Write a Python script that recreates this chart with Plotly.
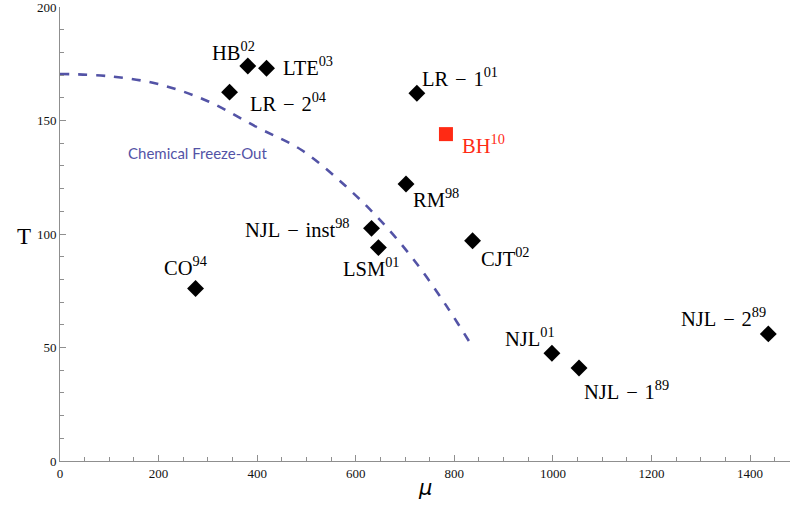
import plotly.graph_objects as go

# ---- data ----
SP = "\u2004"
model_names = ["HB<sup>02</sup>", "LTE<sup>03</sup>", f"LR{SP}−{SP}2<sup>04</sup>", f"NJL{SP}−{SP}inst<sup>98</sup>",
               "LSM<sup>01</sup>", f"LR{SP}−{SP}1<sup>01</sup>", "RM<sup>98</sup>", "CJT<sup>02</sup>",
               "CO<sup>94</sup>", "NJL<sup>01</sup>", f"NJL{SP}−{SP}1<sup>89</sup>", f"NJL{SP}−{SP}2<sup>89</sup>"]
model_mu = [381, 419, 344, 632, 646, 724, 702, 837, 275, 998, 1053, 1437]
model_T = [174, 173, 162.5, 102.5, 94, 162, 122, 97, 76, 47.5, 41, 56]

bh_name = "BH<sup>10</sup>"
bh_mu = [783]
bh_T = [144]

freeze_mu = [0, 100, 200, 300, 400, 490, 580, 650, 720, 785, 832]
freeze_T = [170.5, 169.5, 166, 158.5, 147, 137, 121, 106, 88, 68, 52]
freeze_label = "Chemical Freeze-Out"
freeze_label_pos = (279, 135.6)

x_ticks = [0, 200, 400, 600, 800, 1000, 1200, 1400]
y_ticks = [0, 50, 100, 150, 200]

# ---- label offsets in pixels (dx, dy up) ----
offsets = [(-14, 15), (41, 2), (58, -10), (-74, 0), (-7, -19), (43, 16),
           (30, -14), (33, -16), (-10, 22), (-22, 16), (47, -22), (-45, 17)]
bh_offset = (38, -10)

BLUE = "#5353a6"
RED = "#ff2a14"
AXC = "#8f8f8f"
SERIF = "Liberation Serif"

fig = go.Figure()
fig.add_trace(go.Scatter(x=freeze_mu, y=freeze_T, mode="lines",
                         line=dict(color=BLUE, width=2.6, dash="dash", shape="spline"),
                         hoverinfo="skip", showlegend=False))
fig.add_trace(go.Scatter(x=model_mu, y=model_T, mode="markers",
                         marker=dict(symbol="diamond", size=13, color="black"),
                         showlegend=False))
fig.add_trace(go.Scatter(x=bh_mu, y=bh_T, mode="markers",
                         marker=dict(symbol="square", size=14, color=RED),
                         showlegend=False))

for name, mx, ty, (dx, dy) in zip(model_names, model_mu, model_T, offsets):
    fig.add_annotation(x=mx, y=ty, text=name, showarrow=False, xshift=dx, yshift=dy,
                       font=dict(family=SERIF, size=20.5, color="black"))
fig.add_annotation(x=bh_mu[0], y=bh_T[0], text=bh_name, showarrow=False,
                   xshift=bh_offset[0], yshift=bh_offset[1],
                   font=dict(family=SERIF, size=20.5, color=RED))
fig.add_annotation(x=freeze_label_pos[0], y=freeze_label_pos[1], text=freeze_label, showarrow=False,
                   font=dict(family="Lato", size=15, color=BLUE))

fig.add_annotation(xref="paper", yref="paper", x=0, y=0.5, xshift=-45, yshift=-2, text="T", showarrow=False,
                   font=dict(family=SERIF, size=23, color="black"))
fig.add_annotation(xref="paper", yref="paper", x=0.5, y=0, yshift=-41, text="<i>μ</i>", showarrow=False,
                   font=dict(family="DejaVu Sans", size=21, color="black"))

axis_common = dict(showgrid=False, zeroline=False, showline=True, linecolor=AXC,
                   linewidth=1, ticks="inside", ticklen=6, tickcolor=AXC, automargin=False,
                   ticklabeloverflow="allow",
                   tickfont=dict(family=SERIF, size=13, color="#111"))
fig.update_xaxes(range=[0, 1481], tickvals=x_ticks, **axis_common,
                 minor=dict(dtick=50, ticks="inside", ticklen=4, tickcolor=AXC))
fig.update_yaxes(range=[0, 200], tickvals=y_ticks, **axis_common,
                 minor=dict(dtick=10, ticks="inside", ticklen=4, tickcolor=AXC))

fig.update_layout(width=790, height=519, margin=dict(l=60, r=0, t=7, b=58),
                  plot_bgcolor="white", paper_bgcolor="white")
fig.write_html("out.html", config={"displayModeBar": False},
               post_script="document.body.style.margin='0';")
